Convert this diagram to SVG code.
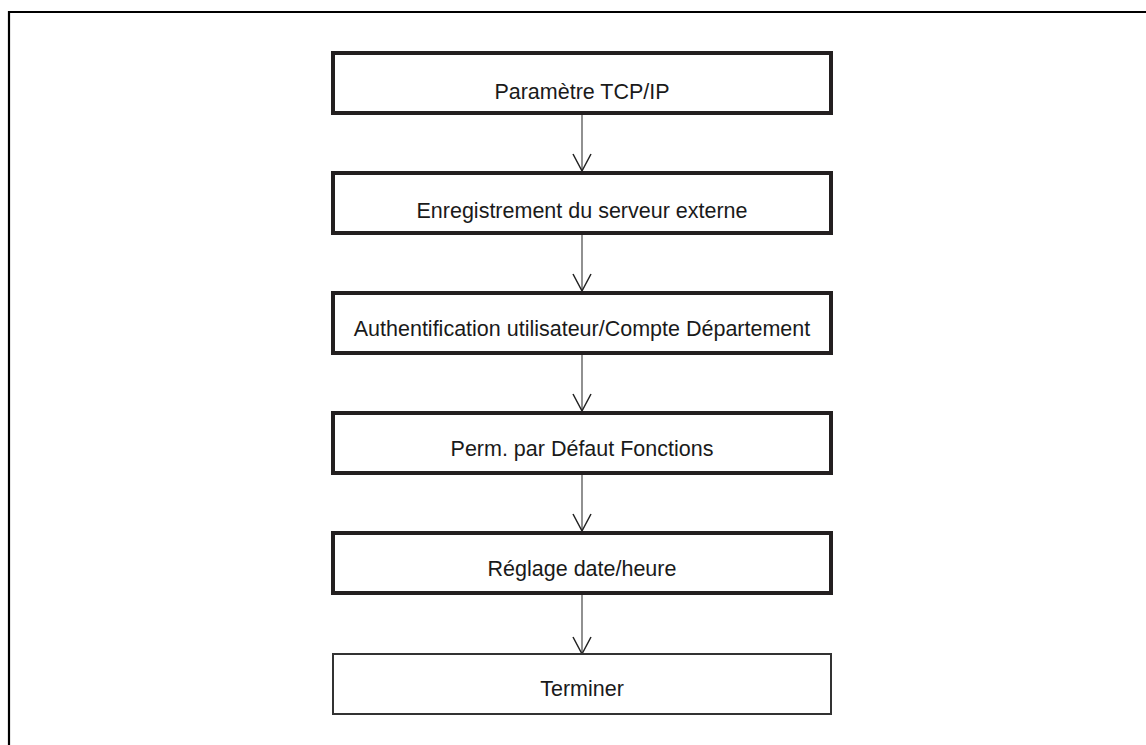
<svg xmlns="http://www.w3.org/2000/svg" width="1146" height="745" viewBox="0 0 1146 745">
<defs>
<style>
.box{fill:#fff;stroke:#231f20;stroke-width:4}
.end{fill:#fff;stroke:#333;stroke-width:2}
.lbl{font-family:"Liberation Sans",Arial,sans-serif;font-size:21.5px;fill:#1a1a1a;text-anchor:middle}
.conn{fill:none;stroke:#555;stroke-width:1.3}
.head{fill:none;stroke:#222;stroke-width:1.5}
</style>
</defs>
<rect width="1146" height="745" fill="#fff"/>
<path d="M9,745 V12 H1146" fill="none" stroke="#000" stroke-width="2.2"/>
<g id="connectors">
<path class="conn" d="M582,115 V171"/><path class="head" d="M573,154 L582,171 L591,154"/>
<path class="conn" d="M582,235 V291"/><path class="head" d="M573,274 L582,291 L591,274"/>
<path class="conn" d="M582,355 V411"/><path class="head" d="M573,394 L582,411 L591,394"/>
<path class="conn" d="M582,475 V531"/><path class="head" d="M573,514 L582,531 L591,514"/>
<path class="conn" d="M582,595 V654"/><path class="head" d="M573,637 L582,654 L591,637"/>
</g>
<g id="n1"><rect class="box" x="333" y="53" width="498" height="60"/><text class="lbl" x="582" y="99">Paramètre TCP/IP</text></g>
<g id="n2"><rect class="box" x="333" y="173" width="498" height="60"/><text class="lbl" x="582" y="218">Enregistrement du serveur externe</text></g>
<g id="n3"><rect class="box" x="333" y="293" width="498" height="60"/><text class="lbl" x="582" y="336">Authentification utilisateur/Compte Département</text></g>
<g id="n4"><rect class="box" x="333" y="413" width="498" height="60"/><text class="lbl" x="582" y="456">Perm. par Défaut Fonctions</text></g>
<g id="n5"><rect class="box" x="333" y="533" width="498" height="60"/><text class="lbl" x="582" y="576">Réglage date/heure</text></g>
<g id="n6"><rect class="end" x="333" y="654" width="498" height="60"/><text class="lbl" x="582" y="696">Terminer</text></g>
</svg>
